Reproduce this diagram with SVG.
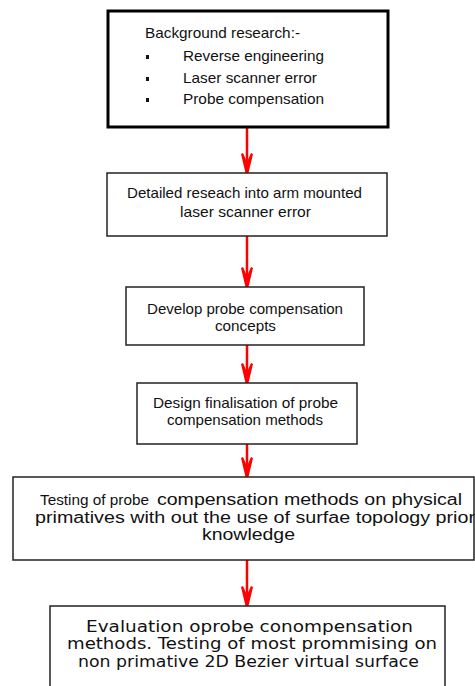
<svg xmlns="http://www.w3.org/2000/svg" width="475" height="686" viewBox="0 0 475 686">
<defs>
<style>
.box{fill:#fff;stroke:#222;stroke-width:1.5}
.thick{stroke:#000;stroke-width:3}
.t{font-family:"Liberation Sans",Arial,sans-serif;font-size:15px;fill:#111}
.b{font-size:16px}
.g{font-family:"DejaVu Sans","Liberation Sans",sans-serif;font-size:15px;fill:#111}
.c{stroke:#f00;stroke-width:2.5;fill:none}
.h{fill:#f00}
</style>
<path id="ah" d="M-6,-19 L-4,-20 L0,-11 L4,-20 L6,-19 L1.5,0 L-1.5,0 Z"/>
</defs>
<rect width="475" height="686" fill="#fff"/>
<g id="connectors">
<line class="c" x1="247" y1="127" x2="247" y2="170"/>
<use href="#ah" class="h" x="247" y="173"/>
<line class="c" x1="247" y1="236" x2="247" y2="284"/>
<use href="#ah" class="h" x="247" y="287"/>
<line class="c" x1="247" y1="345" x2="247" y2="380"/>
<use href="#ah" class="h" x="247" y="383"/>
<line class="c" x1="247" y1="444" x2="247" y2="474"/>
<use href="#ah" class="h" x="247" y="477"/>
<line class="c" x1="247" y1="560" x2="247" y2="603"/>
<use href="#ah" class="h" x="247" y="606"/>
</g>
<g id="n1">
<rect class="box thick" x="108" y="11" width="280" height="116"/>
<text class="t" x="145" y="38" textLength="155" lengthAdjust="spacingAndGlyphs">Background research:-</text>
<rect x="146" y="55" width="3" height="4" fill="#111"/>
<rect x="146" y="77" width="3" height="4" fill="#111"/>
<rect x="146" y="98" width="3" height="4" fill="#111"/>
<text class="t" x="183" y="61" textLength="141" lengthAdjust="spacingAndGlyphs">Reverse engineering</text>
<text class="t" x="183" y="83" textLength="134" lengthAdjust="spacingAndGlyphs">Laser scanner error</text>
<text class="t" x="183" y="104" textLength="141" lengthAdjust="spacingAndGlyphs">Probe compensation</text>
</g>
<g id="n2">
<rect class="box" x="107" y="173" width="280" height="63"/>
<text class="t" x="127" y="198" textLength="235" lengthAdjust="spacingAndGlyphs">Detailed reseach into arm mounted</text>
<text class="t" x="180" y="217" textLength="131" lengthAdjust="spacingAndGlyphs">laser scanner error</text>
</g>
<g id="n3">
<rect class="box" x="126" y="287" width="238" height="58"/>
<text class="t" x="147" y="314" textLength="196" lengthAdjust="spacingAndGlyphs">Develop probe compensation</text>
<text class="t" x="215" y="331" textLength="61" lengthAdjust="spacingAndGlyphs">concepts</text>
</g>
<g id="n4">
<rect class="box" x="137" y="383" width="220" height="61"/>
<text class="t" x="153" y="408" textLength="185" lengthAdjust="spacingAndGlyphs">Design finalisation of probe</text>
<text class="t" x="167" y="425" textLength="156" lengthAdjust="spacingAndGlyphs">compensation methods</text>
</g>
<g id="n5">
<rect class="box" x="13" y="477" width="461" height="83"/>
<text class="t" x="40" y="505" textLength="109" lengthAdjust="spacingAndGlyphs">Testing of probe</text>
<text class="t b" x="157" y="505" textLength="305" lengthAdjust="spacingAndGlyphs">compensation methods on physical</text>
<text class="t b" x="35" y="523" textLength="440" lengthAdjust="spacingAndGlyphs">primatives with out the use of surfae topology prior</text>
<text class="t b" x="202" y="540" textLength="93" lengthAdjust="spacingAndGlyphs">knowledge</text>
</g>
<g id="n6">
<rect class="box" x="50" y="606" width="395" height="100"/>
<text class="g" x="86" y="632" textLength="327" lengthAdjust="spacingAndGlyphs">Evaluation oprobe conompensation</text>
<text class="g" x="67" y="649" textLength="370" lengthAdjust="spacingAndGlyphs">methods.  Testing of most prommising on</text>
<text class="g" x="78" y="667" textLength="341" lengthAdjust="spacingAndGlyphs">non primative 2D Bezier virtual surface</text>
</g>
</svg>
